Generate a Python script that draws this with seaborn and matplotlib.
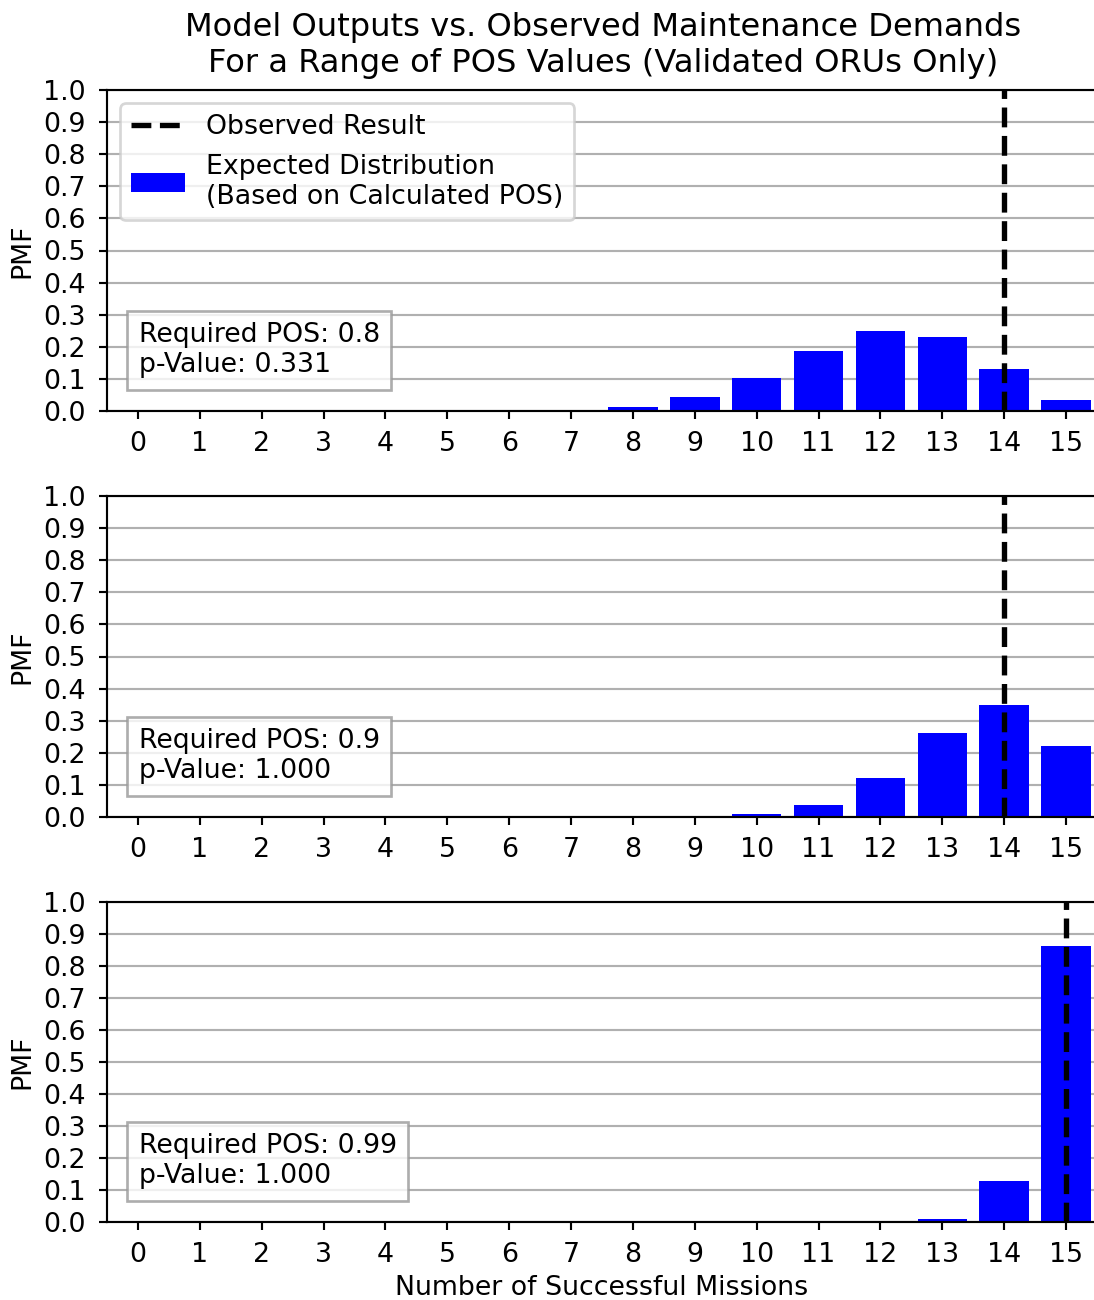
import matplotlib
matplotlib.use("Agg")
import matplotlib.pyplot as plt
import seaborn as sns
import pandas as pd
from matplotlib.lines import Line2D
from matplotlib.patches import Patch

# ---- data ----
missions = list(range(16))
pmf_pos_080 = [0, 0, 0, 0, 0, 0, 0.001, 0.004, 0.014, 0.043, 0.103, 0.188, 0.250, 0.231, 0.132, 0.035]
pmf_pos_090 = [0, 0, 0, 0, 0, 0, 0, 0, 0, 0.002, 0.010, 0.038, 0.120, 0.262, 0.349, 0.220]
pmf_pos_099 = [0, 0, 0, 0, 0, 0, 0, 0, 0, 0, 0, 0, 0, 0.009, 0.128, 0.863]
observed = [14, 14, 15]
required_pos = ["0.8", "0.9", "0.99"]
p_values = ["0.331", "1.000", "1.000"]
yticks = [0.0, 0.1, 0.2, 0.3, 0.4, 0.5, 0.6, 0.7, 0.8, 0.9, 1.0]

title = "Model Outputs vs. Observed Maintenance Demands\nFor a Range of POS Values (Validated ORUs Only)"
xlabel = "Number of Successful Missions"

plt.rcParams["font.family"] = ["DejaVu Sans"]
plt.rcParams["font.size"] = 10

W, H = 1094, 1300
dpi = 193
fig = plt.figure(figsize=(W / dpi, H / dpi), dpi=dpi)

ax_left_px, ax_right_px = 107, 1097
tops = [90, 496, 902]
bots = [411, 817, 1222]

series = [pmf_pos_080, pmf_pos_090, pmf_pos_099]
axes = []
for i, (pmf, t, b) in enumerate(zip(series, tops, bots)):
    ax = fig.add_axes([ax_left_px / W, (H - b) / H, (ax_right_px - ax_left_px) / W, (b - t) / H])
    df = pd.DataFrame({"x": missions, "pmf": pmf})
    sns.barplot(data=df, x="x", y="pmf", order=missions, color="#0000ff",
                saturation=1, width=0.8, linewidth=0, ax=ax, zorder=2)
    ax.set_axisbelow(True)
    ax.grid(axis="y", color="#b0b0b0", linewidth=0.8, zorder=0)
    ax.grid(axis="x", visible=False)
    ax.axvline(missions.index(observed[i]), color="black", linestyle="--",
               linewidth=2, zorder=3)
    ax.set_ylim(0, 1.0)
    ax.set_yticks(yticks)
    ax.set_yticklabels([f"{v:.1f}" for v in yticks])
    ax.set_xlim(-0.5, 15.5)
    ax.set_xticks(range(16))
    ax.set_xticklabels([str(m) for m in missions])
    ax.set_ylabel("PMF", labelpad=3)
    ax.set_xlabel("")
    ax.spines["right"].set_visible(False)
    ax.tick_params(axis="y", direction="out", length=3.0, width=0.8, pad=4.8)
    ax.tick_params(axis="x", direction="out", length=3.0, width=0.8, pad=4.5)
    ax.text(0.032, 0.102, f"Required POS: {required_pos[i]}\np-Value: {p_values[i]}",
            transform=ax.transAxes, va="bottom", ha="left", fontsize=10,
            bbox=dict(boxstyle="square,pad=0.42", facecolor="white",
                      edgecolor="#999999", alpha=0.8), zorder=4)
    axes.append(ax)

handles = [Line2D([0], [0], color="black", linestyle="--", linewidth=2),
           Patch(facecolor="#0000ff")]
labels = ["Observed Result", "Expected Distribution\n(Based on Calculated POS)"]
leg = axes[0].legend(handles, labels, loc="upper left", fontsize=10, framealpha=0.8,
                     fancybox=True)
leg.set_zorder(5)

axes[2].set_xlabel(xlabel, labelpad=2.5)
fig.text(603 / W, 1 - 45.5 / H, title, ha="center", va="center", fontsize=12)

fig.savefig("out.png", dpi=dpi)
